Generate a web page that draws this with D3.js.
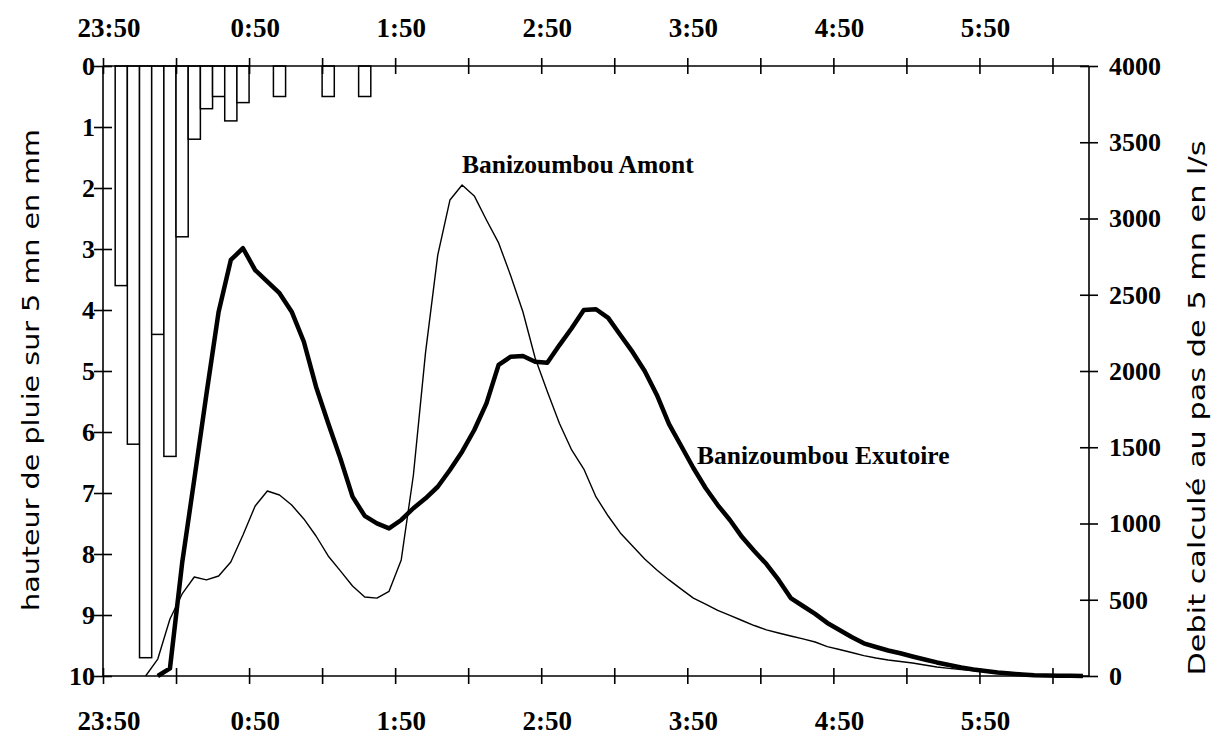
<!DOCTYPE html>
<html>
<head>
<meta charset="utf-8">
<script src="https://cdn.jsdelivr.net/npm/d3@7"></script>
<style>
  html, body { margin: 0; padding: 0; background: #fff; }
  svg { display: block; }
  .serif { font-family: "Liberation Serif", "Times New Roman", serif; font-weight: bold; fill: #000; }
  .title { font-family: "DejaVu Sans Condensed", "Liberation Sans Narrow", "DejaVu Sans", sans-serif; font-stretch: condensed; font-weight: 300; fill: #000; }
</style>
</head>
<body>
<svg id="chart" width="1216" height="736"></svg>
<script>
// 5-minute time steps
const times = ["23:50","23:55","0:00","0:05","0:10","0:15","0:20","0:25","0:30","0:35","0:40","0:45",
  "0:50","0:55","1:00","1:05","1:10","1:15","1:20","1:25","1:30","1:35","1:40","1:45",
  "1:50","1:55","2:00","2:05","2:10","2:15","2:20","2:25","2:30","2:35","2:40","2:45",
  "2:50","2:55","3:00","3:05","3:10","3:15","3:20","3:25","3:30","3:35","3:40","3:45",
  "3:50","3:55","4:00","4:05","4:10","4:15","4:20","4:25","4:30","4:35","4:40","4:45",
  "4:50","4:55","5:00","5:05","5:10","5:15","5:20","5:25","5:30","5:35","5:40","5:45",
  "5:50","5:55","6:00","6:05","6:10","6:15","6:20","6:25","6:30"];

// rainfall depth per 5 min (mm)
const rain = [0,3.6,6.2,9.7,4.4,6.4,2.8,1.2,0.7,0.5,0.9,0.6,
  0,0,0.5,0,0,0,0.5,0,0,0.5,0,0,
  0,0,0,0,0,0,0,0,0,0,0,0,
  0,0,0,0,0,0,0,0,0,0,0,0,
  0,0,0,0,0,0,0,0,0,0,0,0,
  0,0,0,0,0,0,0,0,0,0,0,0,
  0,0,0,0,0,0,0,0,0];

// computed discharge (l/s)
const amont = [null,null,null,0,111,374,538,649,630,656,748,925,
  1115,1213,1187,1121,1030,918,787,689,590,518,511,555,
  761,1318,2124,2760,3121,3220,3148,2990,2840,2623,2387,2085,
  1865,1656,1482,1357,1174,1049,938,852,767,695,630,570,
  511,472,430,397,364,331,302,282,262,243,223,193,
  174,154,134,118,105,95,85,72,59,50,43,35,
  28,21,14,9,6,4,2,1,0];

const exutoire = [null,null,null,null,0,50,740,1290,1850,2389,2728,2805,
  2662,2586,2510,2389,2192,1897,1657,1427,1176,1050,1001,968,
  1023,1100,1165,1241,1351,1471,1613,1788,2040,2094,2098,2061,
  2054,2170,2280,2400,2405,2348,2236,2125,2000,1843,1652,1508,
  1364,1233,1121,1023,911,820,734,630,511,459,407,348,
  302,256,214,190,167,149,128,108,89,72,56,43,
  33,23,16,10,5,3,2,1,0];

const timeLabels = ["23:50","0:50","1:50","2:50","3:50","4:50","5:50"];
const rainTicks = [0,1,2,3,4,5,6,7,8,9,10];
const flowTicks = [0,500,1000,1500,2000,2500,3000,3500,4000];
const tickSteps = [0,6,12,18,24,30,36,42,48,54,60,66,72,78];

const L = 103, R = 1089, T = 66, B = 676;
const svg = d3.select("#chart");
svg.append("rect").attr("width",1216).attr("height",736).attr("fill","#fff");

const x = d3.scaleBand().domain(times).range([L, R]).padding(0);
const xi = d3.scaleLinear().domain([0, times.length]).range([L, R]);
const yL = d3.scaleLinear().domain([0, 10]).range([T, B]);
const yR = d3.scaleLinear().domain([0, 4000]).range([B, T]);

// rain bars (hanging from top)
svg.append("g").selectAll("rect")
  .data(times.map((t, i) => ({t, v: rain[i]})).filter(d => d.v > 0))
  .join("rect")
  .attr("x", d => x(d.t))
  .attr("y", yL(0))
  .attr("width", x.bandwidth())
  .attr("height", d => yL(d.v) - yL(0))
  .attr("fill", "#fff")
  .attr("stroke", "#000")
  .attr("stroke-width", 1.5);

// frame
const frame = svg.append("g").attr("stroke", "#000").attr("stroke-width", 1.6);
frame.append("line").attr("x1", L).attr("x2", R).attr("y1", T).attr("y2", T);
frame.append("line").attr("x1", L).attr("x2", R).attr("y1", B).attr("y2", B);
frame.append("line").attr("x1", L).attr("x2", L).attr("y1", T).attr("y2", B);
frame.append("line").attr("x1", R).attr("x2", R).attr("y1", T).attr("y2", B);

function styleAxis(g, crossAttr, size) {
  g.select(".domain").remove();
  g.selectAll(".tick line").attr(crossAttr + "1", -size).attr(crossAttr + "2", size)
    .attr("stroke", "#000").attr("stroke-width", 1.6);
  g.selectAll(".tick text").remove();
}

// tick marks top & bottom
const gTop = svg.append("g").attr("transform", `translate(0,${T})`)
  .call(d3.axisTop(xi).tickValues(tickSteps).tickSize(8));
styleAxis(gTop, "y", 8);
const gBot = svg.append("g").attr("transform", `translate(0,${B})`)
  .call(d3.axisBottom(xi).tickValues(tickSteps).tickSize(8));
styleAxis(gBot, "y", 8);

// left / right ticks
const gL = svg.append("g").attr("transform", `translate(${L},0)`)
  .call(d3.axisLeft(yL).tickValues(rainTicks).tickSize(9));
styleAxis(gL, "x", 9);
const gR = svg.append("g").attr("transform", `translate(${R},0)`)
  .call(d3.axisRight(yR).tickValues(flowTicks).tickSize(9));
styleAxis(gR, "x", 9);

// time labels (band centres)
const lblTop = svg.append("g").attr("transform", `translate(0,${T})`)
  .call(d3.axisTop(x).tickValues(timeLabels).tickSize(0).tickPadding(29));
lblTop.select(".domain").remove();
lblTop.selectAll("text").attr("class", "serif").style("font-size", "27px");
const lblBot = svg.append("g").attr("transform", `translate(0,${B})`)
  .call(d3.axisBottom(x).tickValues(timeLabels).tickSize(0).tickPadding(35));
lblBot.select(".domain").remove();
lblBot.selectAll("text").attr("class", "serif").style("font-size", "27px");

// y labels
const lblL = svg.append("g").attr("transform", `translate(${L},0)`)
  .call(d3.axisLeft(yL).tickValues(rainTicks).tickFormat(d3.format("d")).tickSize(0).tickPadding(8));
lblL.select(".domain").remove();
lblL.selectAll("text").attr("class", "serif").style("font-size", "26px");
const lblR = svg.append("g").attr("transform", `translate(${R},0)`)
  .call(d3.axisRight(yR).tickValues(flowTicks).tickFormat(d3.format("d")).tickSize(0).tickPadding(20));
lblR.select(".domain").remove();
lblR.selectAll("text").attr("class", "serif").style("font-size", "26px");
svg.selectAll(".tick text").attr("fill", "#000");

// lines
const line = (arr) => d3.line()
  .defined((d, i) => arr[i] != null)
  .x((d, i) => x(times[i]) + x.bandwidth() / 2)
  .y((d, i) => yR(arr[i] == null ? 0 : arr[i]));

svg.append("path").datum(amont).attr("d", line(amont))
  .attr("fill", "none").attr("stroke", "#000").attr("stroke-width", 1.4)
  .attr("stroke-linejoin", "round");
svg.append("path").datum(exutoire).attr("d", line(exutoire))
  .attr("fill", "none").attr("stroke", "#000").attr("stroke-width", 4.5)
  .attr("stroke-linejoin", "round");

// annotations
svg.append("text").attr("class", "serif").style("font-size", "25.5px")
  .attr("x", 462).attr("y", 173).text("Banizoumbou Amont");
svg.append("text").attr("class", "serif").style("font-size", "25.5px")
  .attr("x", 697).attr("y", 464).text("Banizoumbou Exutoire");

// axis titles
svg.append("text").attr("class", "title").style("font-size", "23px")
  .attr("text-anchor", "middle")
  .attr("transform", "translate(39,370) rotate(-90)")
  .attr("textLength", 482).attr("lengthAdjust", "spacingAndGlyphs")
  .text("hauteur de pluie sur 5 mn en mm");
svg.append("text").attr("class", "title").style("font-size", "23px")
  .attr("text-anchor", "middle")
  .attr("transform", "translate(1205,408) rotate(-90)")
  .attr("textLength", 535).attr("lengthAdjust", "spacingAndGlyphs")
  .text("Debit calculé au pas de 5 mn en l/s");
</script>
</body>
</html>
